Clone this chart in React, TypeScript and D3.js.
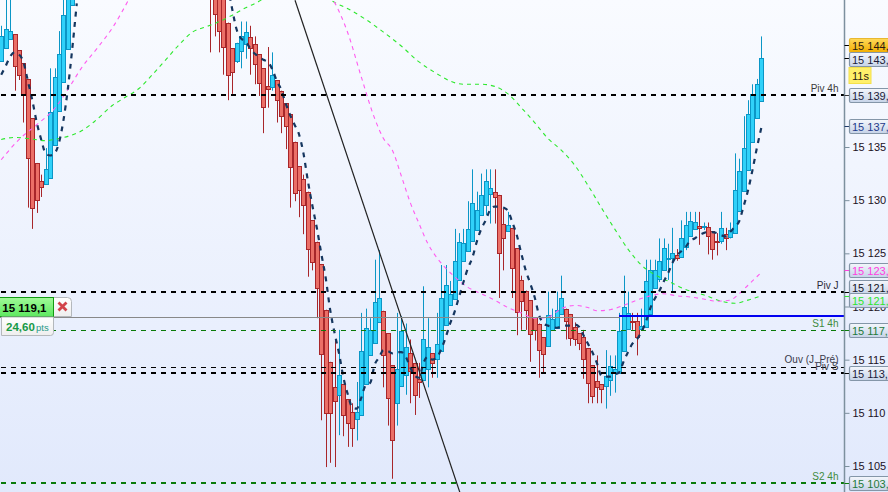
import { useEffect, useRef } from "react"
import * as d3 from "d3"

// all prices below are points above this base
const priceBase = 15100

// 17 bars on the left, then the run between them sits above the top of the window
const barIndex = [...d3.range(0, 17), ...d3.range(47, 172)]

const opens = [
  43.1, 44.3, 45.2, 45.6, 44.1, 42.9, 41.4, 37.7, 33.5, 31.8, 31.5, 32.1, 35.2, 38.4, 41.1, 44.2, 48.4,
  51.5, 50.5, 50.0, 49.2, 46.7, 44.3, 43.1, 44.0, 44.7, 45.3, 44.7, 43.7, 42.4, 40.7, 40.6, 41.3, 40.3, 39.1, 38.1, 35.5, 33.2,
  32.0, 30.8, 28.1, 26.1, 24.0, 19.7, 14.8, 12.4, 11.7, 12.7,
  11.3, 10.1, 9.4, 9.8, 12.7, 15.4, 16.6, 18.5, 19.6, 17.5,
  14.5, 10.9, 12.5, 13.6, 15.6, 14.7, 13.2, 13.1, 14.1, 15.6,
  15.1, 15.8, 18.3, 20.1, 20.7, 22.5, 24.3, 25.2, 26.2, 27.2,
  28.6, 29.5, 30.6, 30.8, 30.5, 27.8, 27.1, 27.4, 25.5, 22.5,
  21.5, 20.6, 19.0, 18.4, 17.1, 16.3, 17.8, 18.0, 19.3, 19.8,
  19.3, 18.1, 17.5, 17.1, 16.1, 14.5, 13.0, 12.7, 12.5, 13.1,
  13.8, 13.7, 15.8, 17.9, 18.6, 18.6, 17.9, 18.1, 19.3, 21.7,
  22.6, 23.4, 24.5, 24.6, 24.8, 24.7, 25.6, 26.6, 27.3, 27.6,
  27.5, 27.5, 27.1, 26.2, 26.2, 26.8, 26.5, 26.9, 29.0, 30.9,
  32.8, 35.5, 37.7, 39.3
]
const highs = [
  46.4, 49.3, 49.3, 45.6, 44.1, 42.9, 41.4, 37.7, 33.5, 32.4, 34.9, 42.4, 42.4, 45.9, 49.8, 50.5, 52.0,
  52.0, 51.0, 50.5, 50.0, 46.7, 44.3, 44.8, 46.8, 46.8, 46.4, 45.4, 43.7, 42.4, 44.4, 43.9, 41.3, 40.3, 39.1, 38.1, 35.5, 33.2,
  32.4, 30.8, 28.1, 26.1, 24.0, 19.7, 14.8, 16.9, 17.8, 12.7,
  11.3, 10.9, 12.9, 19.4, 19.8, 18.9, 24.4, 25.3, 19.6, 17.5,
  14.5, 19.4, 19.1, 18.4, 16.9, 14.7, 14.7, 21.9, 18.9, 15.6,
  19.4, 23.9, 23.9, 22.4, 27.3, 26.9, 27.3, 29.9, 32.9, 30.8,
  32.5, 32.9, 32.9, 32.9, 30.5, 29.2, 28.9, 27.4, 25.5, 22.9,
  21.5, 20.6, 19.0, 18.4, 17.1, 21.4, 19.8, 21.4, 22.9, 19.8,
  19.3, 18.5, 17.5, 17.8, 16.1, 14.5, 15.4, 12.7, 15.9, 15.4,
  15.4, 19.4, 22.9, 21.4, 19.4, 19.4, 19.8, 24.4, 24.4, 24.4,
  26.4, 26.4, 25.9, 27.4, 25.4, 28.1, 28.9, 28.9, 28.9, 28.9,
  27.9, 27.9, 27.1, 26.9, 28.9, 27.4, 27.9, 34.4, 33.9, 37.9,
  39.4, 40.9, 41.4, 45.4
]
const lows = [
  43.1, 44.3, 45.2, 40.3, 41.3, 37.3, 29.3, 27.3, 28.8, 30.3, 31.5, 32.1, 35.2, 38.4, 41.1, 44.2, 48.4,
  43.9, 45.4, 43.9, 41.8, 39.4, 40.0, 42.9, 42.4, 43.3, 41.8, 40.9, 39.8, 36.3, 38.7, 40.3, 37.3, 36.3, 34.8, 29.3, 29.9, 28.4,
  26.8, 22.8, 23.4, 18.9, 9.3, 4.9, 5.3, 4.9, 7.9, 7.8,
  6.8, 6.8, 7.4, 9.8, 12.7, 15.4, 16.6, 18.5, 12.4, 8.8,
  3.8, 8.8, 12.5, 11.7, 10.9, 9.8, 11.4, 13.1, 12.4, 13.3,
  13.3, 15.8, 18.3, 20.1, 20.7, 22.5, 24.3, 25.2, 26.2, 27.2,
  28.6, 28.6, 27.8, 27.8, 20.8, 23.4, 27.1, 20.8, 17.3, 17.8,
  17.8, 14.8, 16.8, 13.3, 13.8, 16.3, 17.8, 18.0, 19.3, 16.9,
  16.3, 16.3, 15.9, 13.2, 10.9, 10.9, 10.9, 10.9, 10.4, 11.6,
  11.9, 13.7, 15.8, 17.9, 17.8, 15.4, 17.9, 18.1, 19.3, 21.7,
  22.3, 23.4, 22.5, 21.3, 24.3, 24.7, 25.3, 26.6, 27.3, 25.8,
  27.2, 24.9, 24.4, 24.8, 25.9, 25.3, 26.4, 26.9, 29.0, 30.9,
  32.8, 35.5, 37.7, 39.3
]
const closes = [
  45.4, 46.1, 45.9, 42.6, 41.8, 40.0, 34.0, 29.3, 30.0, 31.2, 32.9, 38.3, 41.6, 43.7, 47.4, 49.0, 50.7,
  50.0, 47.5, 45.9, 44.4, 41.8, 42.1, 44.8, 45.4, 45.8, 44.3, 42.8, 41.0, 38.8, 40.5, 41.8, 39.4, 37.9, 37.0, 33.1, 30.7, 31.0,
  29.5, 25.4, 24.2, 21.7, 15.5, 10.0, 10.0, 11.1, 13.6, 9.8,
  9.0, 8.6, 10.1, 15.8, 18.0, 17.8, 20.4, 20.8, 15.4, 11.4,
  7.4, 14.1, 17.7, 16.2, 13.9, 11.7, 12.9, 16.9, 16.2, 14.7,
  16.5, 20.8, 22.0, 21.2, 24.3, 26.1, 26.0, 27.3, 29.7, 29.1,
  30.5, 31.8, 31.1, 30.3, 25.0, 26.4, 27.7, 23.6, 19.5, 20.5,
  19.7, 17.4, 17.8, 15.9, 15.5, 19.2, 18.8, 19.7, 20.8, 18.6,
  17.0, 16.9, 16.6, 15.1, 12.8, 11.6, 12.4, 12.2, 13.5, 14.4,
  14.1, 17.7, 20.0, 19.4, 18.5, 17.1, 18.2, 22.4, 23.4, 23.4,
  24.3, 25.5, 24.6, 25.0, 24.6, 26.4, 27.7, 28.0, 27.9, 27.4,
  27.6, 26.6, 25.4, 26.1, 27.4, 26.4, 27.2, 31.0, 32.7, 34.9,
  38.1, 40.0, 40.9, 43.4
]

// fast average, one value per bar: bars 0-17, then bars 51-171
const fastMaA = [41.8, 42.6, 43.5, 43.9, 43.7, 43.0, 41.2, 39.4, 37.3, 35.7, 34.4, 34.2, 34.4, 35.4, 37.5, 40.5, 44.3, 48.5]
const fastMaB = [
  50.2, 47.9, 46.0, 45.2, 44.9, 44.3, 43.8, 43.5, 43.2, 43.0, 42.3, 41.2, 40.4, 39.1, 38.0, 37.1, 36.2,
  34.4, 31.8, 29.5, 27.4, 25.0, 22.7, 19.7, 17.5, 15.6, 13.3, 11.7, 10.5, 10.4, 11.4, 12.6, 12.8, 14.5, 15.2, 15.9, 15.8,
  15.6, 15.7, 15.7, 15.3, 14.3, 13.5, 13.3, 14.7, 15.3, 15.0, 15.2, 16.0, 17.1, 18.4, 19.5, 20.9, 22.3, 23.6, 24.6, 26.1,
  27.3, 28.1, 29.1, 29.4, 29.4, 29.3, 29.0, 27.9, 26.7, 25.0, 23.4, 22.2, 20.9, 19.2, 18.4, 18.2, 18.1, 18.0, 18.1, 18.2,
  18.2, 18.3, 18.1, 17.3, 16.5, 15.7, 14.7, 13.5, 13.4, 13.4, 13.6, 13.8, 14.8, 15.7, 16.5, 16.9, 17.6, 18.5, 19.8, 20.7,
  21.4, 22.3, 23.1, 24.1, 24.8, 25.2, 25.6, 26.2, 26.4, 26.7, 26.9, 27.0, 27.0, 26.9, 26.7, 26.6, 27.0, 27.5, 28.0, 29.4,
  30.9, 32.8, 34.9, 36.8
]

const pinkBarsA = [0, 4, 8, 12, 15, 18, 22, 25, 29]
const pinkMaA = [33.8, 35.7, 37.1, 38.6, 40.4, 42.4, 44.5, 46.2, 49.1]
const pinkBarsB = [74, 75, 78, 81, 84, 86, 88, 90, 92, 94, 96, 98, 100, 102, 105, 108, 111, 114, 117, 120, 123, 126, 129, 132, 134, 137, 140, 143, 146, 149, 152, 155, 158, 161, 164, 166, 168, 170, 171]
const pinkMaB = [49.3, 48.6, 45.7, 41.6, 37.7, 35.8, 34.7, 32.3, 29.8, 27.8, 25.9, 24.6, 23.6, 22.8, 21.8, 21.2, 20.6, 19.9, 19.4, 18.9, 19.0, 19.8, 20.1, 19.9, 19.6, 19.7, 20.1, 20.6, 21.0, 21.2, 21.0, 20.9, 20.7, 20.5, 20.6, 21.2, 22.0, 22.8, 23.2]

const greenBarsA = [0, 3, 6, 10, 13, 15, 18, 21, 25, 28, 31, 34, 37, 40, 43, 46, 48, 52, 55, 58, 60]
const greenMaA = [35.7, 35.9, 35.8, 35.6, 35.8, 36.0, 36.5, 37.4, 38.9, 39.7, 40.5, 41.8, 43.2, 44.6, 45.8, 46.3, 46.6, 47.4, 48.1, 48.7, 49.3]
const greenBarsB = [73, 75, 78, 82, 86, 90, 94, 98, 101, 104, 108, 111, 114, 117, 120, 123, 126, 129, 132, 135, 138, 141, 144, 147, 150, 154, 158, 162, 165, 168, 171]
const greenMaB = [49.1, 48.6, 48.0, 47.0, 45.8, 44.5, 43.0, 41.9, 41.2, 40.9, 40.9, 40.7, 40.0, 38.7, 37.3, 35.8, 34.7, 33.3, 31.4, 29.3, 27.3, 25.4, 23.9, 23.0, 22.4, 21.6, 21.1, 20.5, 20.3, 20.6, 21.0]

const trendBars = [66.1, 103.2]
const trendPrices = [48.8, 2.5]

const priceTicks = [15105, 15110, 15115, 15120, 15125, 15130, 15135]

const levelNames = ["Piv 4h", "Piv J", "S1 4h", "Ouv (J. Pré)", "Piv S", "S2 4h"]
const levelPrices = [39.9, 21.4, 17.8, 14.3, 13.7, 3.4]
const levelColors = ["#000", "#000", "#0a7a0a", "#000", "#000", "#0a7a0a"]
const levelWidths = [2, 2, 1, 1, 2, 2]
const levelTextColors = ["#3a3a3a", "#2a2a3a", "#3f8a3f", "#3a3a4a", "#3a3a4a", "#3f8a3f"]

const tagLabels = ["15 144,", "15 143,", "15 139,", "15 137,", "15 123,", "15 121,", "15 121,", "15 117,", "15 113,", "15 103,"]
const tagPrices = [44.6, 43.4, 39.9, 37.0, 23.4, 21.4, 21.0, 17.8, 13.7, 3.4]
const tagNudges = [0, 1.5, 0, 0, 0, -5, 4.5, 0, 0, 0]
const tagColors = ["#2a1a10", "#1c1c3a", "#1c1c3a", "#1f3a8a", "#ff40e0", "#14141f", "#2ee62e", "#1f7a3a", "#1c1c3a", "#1f7a3a"]
const tickColors = ["#000", "#000", "#333", "#1f3a6a", "#ff40e0", "#000", "#2ee62e", "#0a7a0a", "#000", "#0a7a0a"]

const orderPrice = 19.05
const tradeEntry = 18.1 // blue line, from bar 139 to the axis

export default function App() {
  const svgRef = useRef<SVGSVGElement>(null)

  useEffect(() => {
    if (!svgRef.current) return

    const svg = d3.select(svgRef.current)
    svg.selectAll("*").remove()

    const width = 888
    const height = 492
    const axisX = 844.5

    const x = d3.scaleLinear().domain([0, 171]).range([1.2, 761.3])
    const y = d3.scaleLinear().domain([15105, 15135]).range([466, 147])
    const yp = (v: number) => y(priceBase + v)

    const locale = d3.formatLocale({ decimal: ",", thousands: " ", grouping: [3], currency: ["", ""] })

    const defs = svg.append("defs")
    const addGradient = (id: string, top: string, bottom: string) => {
      const g = defs.append("linearGradient").attr("id", id)
        .attr("x1", "0%").attr("y1", "0%").attr("x2", "0%").attr("y2", "100%")
      g.append("stop").attr("offset", "0%").attr("stop-color", top)
      g.append("stop").attr("offset", "100%").attr("stop-color", bottom)
    }
    addGradient("bg", "#f9fbff", "#e1e9fc")
    addGradient("tag", "#f4f7fc", "#c6d3e8")
    addGradient("gold", "#ffd95a", "#f2ae00")
    addGradient("order", "#a0fa98", "#5ee860")
    addGradient("white", "#ffffff", "#eeeeee")

    svg.append("rect").attr("width", width).attr("height", height).attr("fill", "url(#bg)")

    // candles
    const candles = svg.append("g")
    barIndex.forEach((bar, i) => {
      const up = closes[i] >= opens[i]
      const left = Math.round(x(bar) - 2) + 0.5
      const top = Math.round(yp(Math.max(opens[i], closes[i])))
      const bottom = Math.round(yp(Math.min(opens[i], closes[i])))
      const edge = up ? "#0b96c6" : "#a8262a"
      candles.append("line")
        .attr("x1", left + 2).attr("x2", left + 2)
        .attr("y1", yp(highs[i])).attr("y2", yp(lows[i]))
        .attr("stroke", edge)
        .attr("stroke-width", 1)
      candles.append("rect")
        .attr("x", left).attr("y", top + 0.5)
        .attr("width", 4).attr("height", Math.max(bottom - top, 1))
        .attr("fill", up ? "#30d1f9" : "#eb6f67")
        .attr("stroke", edge)
        .attr("stroke-width", 1)
    })

    const line = d3.line<[number, number]>()
      .x(d => x(d[0]))
      .y(d => yp(d[1]))
      .curve(d3.curveMonotoneX)

    const drawLine = (bars: number[], values: number[], color: string, w: number, dash: string) => {
      svg.append("path")
        .datum(bars.map((b, i) => [b, values[i]] as [number, number]))
        .attr("fill", "none")
        .attr("stroke", color)
        .attr("stroke-width", w)
        .attr("stroke-dasharray", dash)
        .attr("d", line)
    }

    drawLine(greenBarsA, greenMaA, "#2ee82e", 1.1, "4 4")
    drawLine(greenBarsB, greenMaB, "#2ee82e", 1.1, "4 4")
    drawLine(pinkBarsA, pinkMaA, "#ff5cf0", 1.1, "4 4")
    drawLine(pinkBarsB, pinkMaB, "#ff5cf0", 1.1, "4 4")
    drawLine(d3.range(0, 18), fastMaA, "#15365f", 2.2, "5 5.5")
    drawLine(d3.range(51, 172), fastMaB, "#15365f", 2.2, "5 5.5")

    // trend line
    svg.append("line")
      .attr("x1", x(trendBars[0])).attr("y1", yp(trendPrices[0]))
      .attr("x2", x(trendBars[1])).attr("y2", yp(trendPrices[1]))
      .attr("stroke", "#222")
      .attr("stroke-width", 1.2)

    // horizontal levels with their names
    levelNames.forEach((name, i) => {
      const ly = Math.round(yp(levelPrices[i])) + (levelWidths[i] === 1 ? 0.5 : 0)
      svg.append("line")
        .attr("x1", 0).attr("x2", axisX)
        .attr("y1", ly).attr("y2", ly)
        .attr("stroke", levelColors[i])
        .attr("stroke-width", levelWidths[i])
        .attr("stroke-dasharray", "5 5")
        .attr("stroke-dashoffset", -1)
      const above = name === "Ouv (J. Pré)" ? 4.5 : name === "Piv S" ? 3 : 3.5
      svg.append("text")
        .attr("x", 838.5).attr("y", ly - above)
        .attr("text-anchor", "end")
        .style("font-family", "Liberation Sans")
        .style("font-size", "10px")
        .style("fill", levelTextColors[i])
        .text(name)
    })

    // open order line, then the blue one taking over
    const orderY = Math.round(yp(orderPrice)) + 0.5
    svg.append("line")
      .attr("x1", 0).attr("x2", x(139) + 1)
      .attr("y1", orderY).attr("y2", orderY)
      .attr("stroke", "#888").attr("stroke-width", 1.2)
    svg.append("line")
      .attr("x1", x(139)).attr("x2", axisX)
      .attr("y1", Math.round(yp(tradeEntry + 1.05))).attr("y2", Math.round(yp(tradeEntry + 1.05)))
      .attr("stroke", "#0000f0").attr("stroke-width", 2)

    // right axis
    svg.append("rect").attr("x", axisX).attr("y", 0).attr("width", width - axisX).attr("height", height).attr("fill", "url(#bg)")
    const axis = d3.axisRight(y)
      .tickValues(priceTicks)
      .tickSize(5)
      .tickPadding(3)
      .tickFormat(d => locale.format(",d")(d as number))
    const axisG = svg.append("g").attr("transform", `translate(${axisX},0)`).call(axis)
    axisG.select(".domain").remove()
    axisG.selectAll(".tick line").attr("stroke", "#7d909e")
    axisG.selectAll(".tick text")
      .style("font-family", "Liberation Sans")
      .style("font-size", "11px")
      .style("fill", "#1c1024")
    svg.append("line")
      .attr("x1", axisX).attr("x2", axisX)
      .attr("y1", 0).attr("y2", height)
      .attr("stroke", "#7d909e").attr("stroke-width", 1.5)

    // price tags, drawn over the tick labels
    tagLabels.forEach((label, i) => {
      const ty = yp(tagPrices[i])
      const cy = Math.round(ty + tagNudges[i])
      svg.append("line")
        .attr("x1", axisX).attr("x2", axisX + 5)
        .attr("y1", Math.round(ty) + 0.5).attr("y2", Math.round(ty) + 0.5)
        .attr("stroke", tickColors[i])
      svg.append("rect")
        .attr("x", 849.5).attr("y", cy - 6.5)
        .attr("width", 44).attr("height", 14)
        .attr("rx", 1.5)
        .attr("fill", i === 0 ? "url(#gold)" : "url(#tag)")
        .attr("stroke", i === 0 ? "#e8b830" : "#8496a8")
        .attr("stroke-width", 1.2)
      svg.append("text")
        .attr("x", 852).attr("y", cy + 4.5)
        .style("font-family", "Liberation Sans")
        .style("font-size", "11px")
        .style("fill", tagColors[i])
        .text(label)
    })

    // countdown
    svg.append("rect")
      .attr("x", 849).attr("y", 67.5)
      .attr("width", 22).attr("height", 16)
      .attr("fill", "#fff06a").attr("stroke", "#f4e04a")
    svg.append("text")
      .attr("x", 852).attr("y", 79.5)
      .style("font-family", "Liberation Sans")
      .style("font-size", "11px")
      .style("fill", "#2a1a10")
      .text("11s")

    // order widget on the left
    const w = svg.append("g")
    w.append("path")
      .attr("d", "M53.5,297.5 H67.5 Q71.5,297.5 71.5,301.5 V316.5 H53.5 Z")
      .attr("fill", "url(#white)").attr("stroke", "#b4b8bc")
    w.append("path")
      .attr("d", "M58.5,302.5 L66.5,310.5 M66.5,302.5 L58.5,310.5")
      .attr("stroke", "#d2434a").attr("stroke-width", 2.8)
    w.append("rect")
      .attr("x", -2).attr("y", 297.5)
      .attr("width", 55.5).attr("height", 19)
      .attr("fill", "url(#order)").attr("stroke", "#129a12")
    w.append("text")
      .attr("x", 46.5).attr("y", 311.5)
      .attr("text-anchor", "end")
      .style("font-family", "Liberation Sans")
      .style("font-size", "11.5px")
      .style("font-weight", "bold")
      .style("fill", "#000")
      .text("@ 15 119,1")
    w.append("path")
      .attr("d", "M1.5,317 H53.5 V332.5 Q53.5,335.5 50.5,335.5 H1.5 Z")
      .attr("fill", "url(#white)").attr("stroke", "#b4b8bc")
    w.append("text")
      .attr("x", 6).attr("y", 331)
      .style("font-family", "Liberation Sans")
      .style("font-size", "11.5px")
      .style("font-weight", "bold")
      .style("fill", "#179a46")
      .text("24,60")
    w.append("text")
      .attr("x", 36).attr("y", 331)
      .style("font-family", "Liberation Sans")
      .style("font-size", "9.5px")
      .style("fill", "#2a9a8a")
      .text("pts")
  }, [])

  return (
    <svg
      ref={svgRef}
      width={888}
      height={492}
      viewBox="0 0 888 492"
      style={{ position: "absolute", left: 0, top: 0, display: "block" }}
    />
  )
}
